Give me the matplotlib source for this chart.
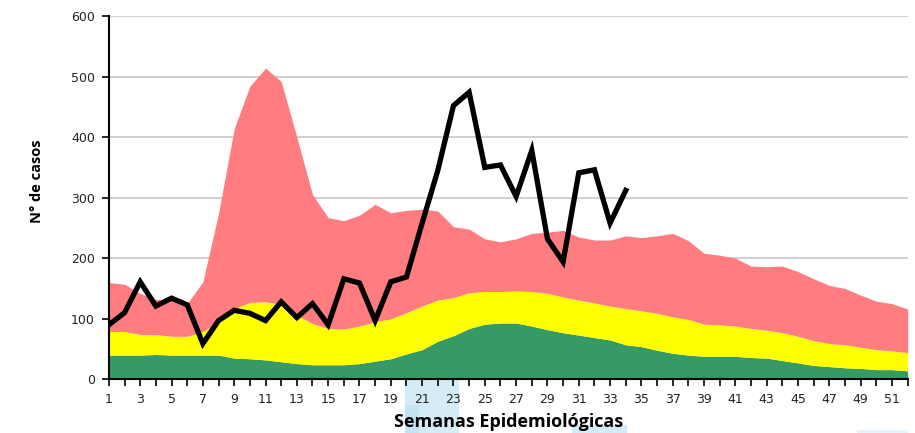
import numpy as np
import matplotlib
matplotlib.use("Agg")
import matplotlib.pyplot as plt
from matplotlib.patches import Rectangle

semanas = np.arange(1, 53)

# límites del canal endémico (valores acumulados)
zona_exito = [40, 40, 40, 41, 40, 40, 40, 40, 35, 34, 32, 29, 26, 24, 24, 24, 26, 30, 34, 42,
              49, 63, 72, 84, 91, 93, 93, 88, 82, 77, 73, 69, 65, 57, 54, 48, 43, 40, 38, 38,
              38, 36, 35, 31, 27, 23, 21, 19, 18, 16, 16, 14]
zona_seguridad = [79, 79, 74, 74, 71, 71, 79, 95, 117, 127, 128, 124, 106, 92, 84, 83, 88, 95, 100, 110,
                  121, 131, 135, 143, 145, 145, 146, 145, 142, 136, 131, 126, 121, 117, 113, 109, 103, 99, 91, 90,
                  88, 84, 81, 77, 71, 64, 59, 57, 53, 49, 47, 44]
zona_alarma = [160, 157, 142, 132, 131, 125, 161, 274, 414, 484, 514, 492, 400, 305, 267, 262, 271, 289, 275, 279,
               281, 278, 252, 248, 232, 227, 232, 241, 243, 246, 235, 230, 230, 237, 234, 237, 241, 229, 208, 205,
               200, 187, 186, 187, 178, 166, 155, 150, 139, 129, 125, 116]

# casos observados, semanas 1 a 34
casos = [90, 110, 161, 121, 134, 123, 59, 97, 114, 109, 97, 128, 102, 125, 90, 166, 159, 97, 161, 169,
         258, 345, 452, 474, 350, 354, 302, 378, 232, 194, 341, 346, 258, 312]

fig = plt.figure(figsize=(9.15, 4.33), dpi=100)
ax = fig.add_axes([0.119, 0.124, 0.873, 0.839])

ax.fill_between(semanas, 0, zona_exito, color="#359A65", lw=0, zorder=2)
ax.fill_between(semanas, zona_exito, zona_seguridad, color="#FFFF00", lw=0, zorder=2)
ax.fill_between(semanas, zona_seguridad, zona_alarma, color="#FF7C80", lw=0, zorder=2)
ax.plot(np.arange(1, len(casos) + 1), casos, color="black", lw=3.8, zorder=4,
        solid_joinstyle="miter")

ax.set_xlim(1, 52)
ax.set_ylim(0, 600)
ax.set_xticks(semanas)
ax.set_xticklabels([str(s) if s % 2 == 1 else "" for s in semanas])
ax.set_yticks(range(0, 601, 100))
ax.yaxis.grid(True, color="#C8C8C8", lw=1.2, zorder=1)
ax.set_axisbelow(True)

for lado in ["top", "right"]:
    ax.spines[lado].set_visible(False)
ax.spines["left"].set_linewidth(1.5)
ax.spines["bottom"].set_linewidth(1.5)
ax.spines["left"].set_zorder(5)
ax.spines["bottom"].set_zorder(5)
ax.tick_params(axis="both", direction="out", length=5, width=1.2, labelsize=9,
               labelcolor="#222222", pad=5)
ax.tick_params(axis="x", pad=5)

ax.set_xlabel("Semanas Epidemiológicas", family="Open Sans", fontweight="bold", fontsize=13)
ax.xaxis.set_label_coords(0.5, -0.118)
ax.xaxis.label.set_va("center")
ax.set_ylabel("N° de casos", family="Open Sans", fontweight="bold", fontsize=10.5)
ax.yaxis.set_label_coords(-0.090, 0.546)
ax.yaxis.label.set_va("center")

# restos de selección en celeste bajo el eje
W, H = 915, 433
for x0, y0, x1, y1, c in [(405, 380, 459, 433, "#D5ECF6"), (405, 405, 419, 433, "#C3E4F2"),
                          (572, 425, 627, 433, "#D5ECF6"), (857, 430, 908, 433, "#E6F3F9")]:
    fig.patches.append(Rectangle((x0 / W, 1 - y1 / H), (x1 - x0) / W, (y1 - y0) / H,
                                 transform=fig.transFigure, color=c, zorder=-1, lw=0))

fig.savefig("out.png", dpi=100)
